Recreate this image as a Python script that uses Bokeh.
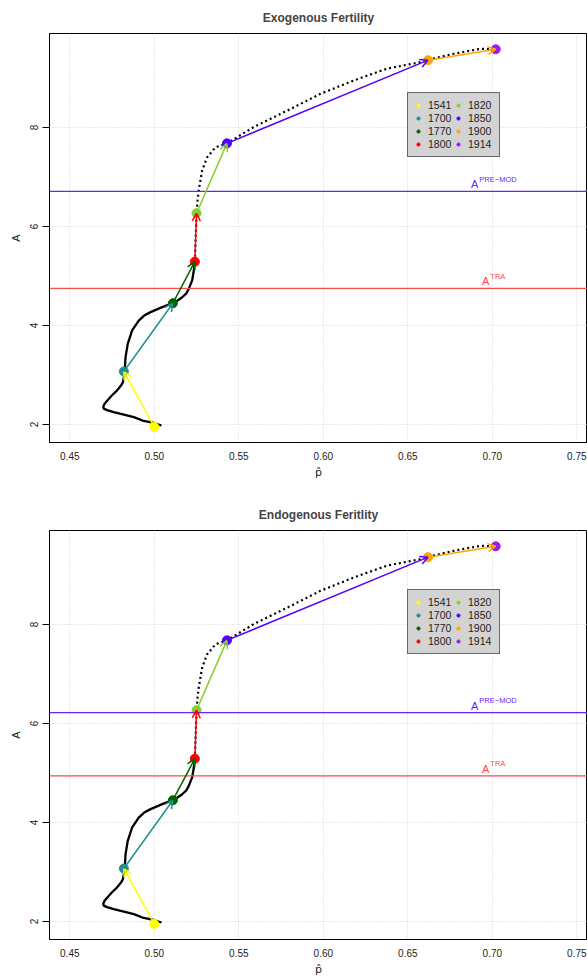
from bokeh.plotting import figure
from bokeh.models import (Arrow, OpenHead, Span, Label, Legend, LegendItem,
                          FixedTicker)
from bokeh.layouts import column
from bokeh.embed import file_html
from bokeh.resources import INLINE

# ---------------- data ----------------
years = ["1541", "1700", "1770", "1800", "1820", "1850", "1900", "1914"]
colors = ["#FFFF00", "#20908C", "#006400", "#FF0000",
          "#86CF2E", "#5500FF", "#FFA500", "#9B1BE8"]
p_hat = [0.500, 0.482, 0.511, 0.524, 0.525, 0.543, 0.662, 0.702]
A_vals = [1.95, 3.07, 4.45, 5.29, 6.27, 7.68, 9.36, 9.58]

# trajectory curve (solid part up to 1800, dotted afterwards)
curve_solid_x = [0.5043, 0.4997, 0.4930, 0.4879, 0.4820, 0.4760, 0.4720, 0.4701,
                 0.4698, 0.4706, 0.4721, 0.4750, 0.4780, 0.4800, 0.4814, 0.4820,
                 0.4825, 0.4830, 0.4843, 0.4869, 0.4908, 0.4940, 0.4978, 0.5047,
                 0.5106, 0.5140, 0.5165, 0.5190, 0.5204, 0.5224, 0.5234, 0.5240]
curve_solid_y = [1.98, 2.03, 2.08, 2.15, 2.20, 2.25, 2.29, 2.32,
                 2.36, 2.42, 2.48, 2.59, 2.69, 2.77, 2.85, 2.96,
                 3.07, 3.36, 3.63, 3.90, 4.10, 4.20, 4.27, 4.37,
                 4.45, 4.51, 4.57, 4.65, 4.74, 4.91, 5.11, 5.29]
curve_dot_x = [0.5240, 0.5243, 0.5247, 0.5250, 0.5255, 0.5263, 0.5283, 0.5313,
               0.5362, 0.5431, 0.5589, 0.5786, 0.5983, 0.6180, 0.6378, 0.6575,
               0.6624, 0.6772, 0.6930, 0.7025]
curve_dot_y = [5.29, 5.60, 5.95, 6.27, 6.50, 6.73, 7.13, 7.40,
               7.60, 7.68, 8.01, 8.34, 8.68, 8.95, 9.19, 9.32,
               9.37, 9.49, 9.59, 9.58]

panel_titles = ["Exogenous Fertility", "Endogenous Feritlity"]
A_premod = [6.71, 6.22]
A_tra = [4.75, 4.94]

x_ticks = [0.45, 0.50, 0.55, 0.60, 0.65, 0.70, 0.75]
y_ticks = [2, 4, 6, 8]
x_tick_labels = ["0.45", "0.50", "0.55", "0.60", "0.65", "0.70", "0.75"]
y_tick_labels = ["2", "4", "6", "8"]

premod_color = "#6A22FF"
tra_color = "#FF4A4A"
label_x = 0.70
FONT = "Liberation Sans"


def make_panel(title, a_pre, a_tra, height, bottom):
    p = figure(width=587, height=height, x_range=(0.438, 0.7563),
               y_range=(1.636, 9.899), output_backend="svg",
               toolbar_location=None, title=title,
               min_border_left=49, min_border_right=0, min_border_top=33,
               min_border_bottom=bottom)
    p.title.text_font = FONT
    p.title.text_font_size = "12px"
    p.title.text_font_style = "bold"
    p.title.align = "center"
    p.title.offset = 4
    p.title.standoff = 17
    p.outline_line_color = "black"
    p.outline_line_width = 1
    p.outline_line_alpha = 1
    p.background_fill_color = "white"
    p.border_fill_color = "white"

    # axes
    p.xaxis.ticker = FixedTicker(ticks=x_ticks)
    p.yaxis.ticker = FixedTicker(ticks=y_ticks)
    p.xaxis.major_label_overrides = {t: l for t, l in zip(x_ticks, x_tick_labels)}
    p.yaxis.major_label_overrides = {t: l for t, l in zip(y_ticks, y_tick_labels)}
    for ax in (p.xaxis, p.yaxis):
        ax.axis_line_color = "black"
        ax.major_label_text_font = FONT
        ax.major_label_text_font_size = "10px"
        ax.major_label_text_color = "#222222"
        ax.minor_tick_line_color = None
        ax.axis_label_text_font_style = "normal"
        ax.axis_label_text_color = "#222222"
    p.xaxis.major_tick_out = 0
    p.xaxis.major_tick_in = 0
    p.xaxis.major_label_standoff = 9
    p.xaxis.axis_label = "p\u0302"
    p.xaxis.axis_label_text_font = "DejaVu Sans"
    p.xaxis.axis_label_text_font_size = "11px"
    p.xaxis.axis_label_standoff = 3
    p.yaxis.major_tick_out = 7
    p.yaxis.major_tick_in = 0
    p.yaxis.major_tick_line_color = "black"
    p.yaxis.major_label_standoff = 4
    p.yaxis.major_label_orientation = "vertical"
    p.yaxis.axis_label = "A"
    p.yaxis.axis_label_text_font = FONT
    p.yaxis.axis_label_text_font_size = "11px"
    p.yaxis.axis_label_standoff = 6

    # grid
    p.xgrid.ticker = FixedTicker(ticks=x_ticks)
    p.ygrid.ticker = FixedTicker(ticks=y_ticks)
    for g in (p.xgrid, p.ygrid):
        g.grid_line_color = "#D3D3D3"
        g.grid_line_dash = "1 2"
        g.grid_line_width = 1

    # reference lines
    p.add_layout(Span(location=a_pre, dimension="width", line_color=premod_color,
                      line_width=1.3))
    p.add_layout(Span(location=a_tra, dimension="width", line_color=tra_color,
                      line_width=1.3))
    for lvl, sup, col, ax_off, sup_off in ((a_pre, "PRE\u2212MOD", premod_color, -14, -13),
                                           (a_tra, "TRA", tra_color, -3, -2)):
        p.add_layout(Label(x=label_x, y=lvl, text="A", x_offset=ax_off, y_offset=7,
                           text_align="right", text_baseline="alphabetic",
                           text_font=FONT, text_font_size="11px", text_color=col))
        p.add_layout(Label(x=label_x, y=lvl, text=sup, x_offset=sup_off, y_offset=12,
                           text_align="left", text_baseline="alphabetic",
                           text_font=FONT, text_font_size="7.5px", text_color=col))

    # trajectory
    p.line(curve_solid_x, curve_solid_y, line_color="black", line_width=2.3)
    p.line(curve_dot_x, curve_dot_y, line_color="black", line_width=2.2,
           line_dash="2 3")

    # small markers (legend glyphs; hidden under the big points)
    items = []
    for i in range(len(years)):
        r = p.scatter([p_hat[i]], [A_vals[i]], size=5,
                      fill_color=colors[i], line_color=colors[i])
        items.append(LegendItem(label=years[i], renderers=[r]))
    # visible points
    for i in range(len(years)):
        p.scatter([p_hat[i]], [A_vals[i]], size=9,
                  fill_color=colors[i], line_color=colors[i])

    # arrows between consecutive years
    for i in range(len(p_hat) - 1):
        p.add_layout(Arrow(end=OpenHead(size=8, line_color=colors[i], line_width=1.5),
                           x_start=p_hat[i], y_start=A_vals[i],
                           x_end=p_hat[i + 1], y_end=A_vals[i + 1],
                           line_color=colors[i], line_width=1.5))

    # legend
    leg = Legend(items=items, location=(358, 285), orientation="vertical", nrows=4,
                 padding=6, spacing=1, glyph_width=8, glyph_height=12,
                 label_height=12, label_width=25, label_standoff=6,
                 label_text_font=FONT, label_text_font_size="10.5px",
                 label_text_color="#222222",
                 background_fill_color="#D3D3D3", background_fill_alpha=1,
                 border_line_color="black", border_line_width=1.2, margin=0)
    p.add_layout(leg)
    return p


p1 = make_panel(panel_titles[0], A_premod[0], A_tra[0], 497, 55)
p2 = make_panel(panel_titles[1], A_premod[1], A_tra[1], 482, 40)

layout = column(p1, p2, spacing=0)
open("out.html", "w").write(file_html(layout, INLINE))
